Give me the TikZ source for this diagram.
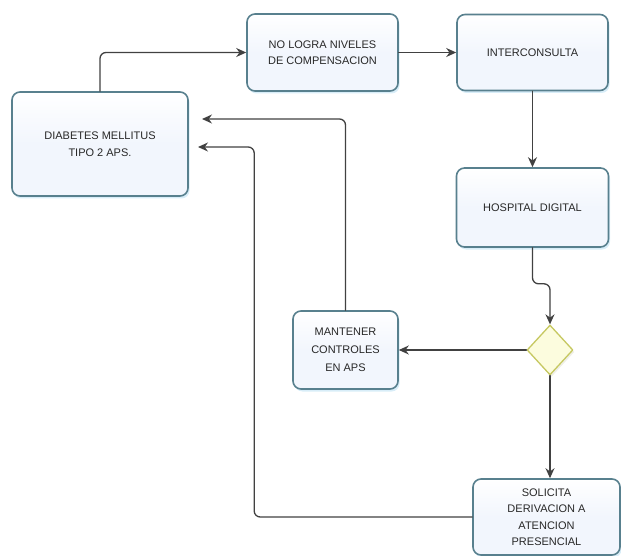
\documentclass[tikz,border=0pt]{standalone}
\usepackage{fontspec}
\usetikzlibrary{shapes.geometric,shadows,arrows.meta}
\newfontfamily\boxfont{Liberation Sans}
\definecolor{boxline}{RGB}{88,128,142}
\definecolor{boxfill}{RGB}{242,246,253}
\definecolor{boxglow}{RGB}{200,230,245}
\definecolor{decline}{RGB}{198,200,96}
\definecolor{decfill}{RGB}{252,252,222}
\definecolor{wire}{RGB}{65,65,65}
\definecolor{txt}{RGB}{40,40,40}
\begin{document}
\begin{tikzpicture}[>={Stealth[length=10pt,width=9pt]},line join=round,line cap=round,x=1pt,y=-1pt,
    paso/.style={draw=boxline,line width=1.6pt,top color=white,bottom color=boxfill,
        middle color=boxfill,rounded corners=8pt,
        align=center,text=txt,inner sep=2pt,
        font=\boxfont\fontsize{11}{16.5}\selectfont,
        drop shadow={shadow xshift=1.5pt,shadow yshift=-2.5pt,fill=boxglow,opacity=.7}},
    decision/.style={diamond,draw=decline,line width=1.3pt,fill=decfill,inner sep=0pt,
        minimum width=46pt,minimum height=50pt,
        drop shadow={shadow xshift=1.5pt,shadow yshift=-2pt,fill=decfill!70!gray,opacity=.4}},
    flecha/.style={->,draw=wire,line width=1.3pt,rounded corners=6pt}]
    \useasboundingbox (0,0) rectangle (621,556);
    % cajas
    \node[paso,minimum width=176pt,minimum height=104pt] (diab) at (100,144)
        {DIABETES MELLITUS\\TIPO 2 APS.};
    \node[paso,minimum width=151pt,minimum height=77pt] (nologra) at (322.5,52.5)
        {NO LOGRA NIVELES\\DE COMPENSACION};
    \node[paso,minimum width=151pt,minimum height=76pt] (inter) at (532.5,52.5)
        {INTERCONSULTA};
    \node[paso,minimum width=152pt,minimum height=79pt] (hosp) at (532.5,207.5)
        {HOSPITAL DIGITAL};
    \node[decision] (dec) at (550,350) {};
    \node[paso,minimum width=105pt,minimum height=78pt,
        font=\boxfont\fontsize{11}{18}\selectfont] (mant) at (345.5,350)
        {MANTENER\\CONTROLES\\EN APS};
    \node[paso,minimum width=147pt,minimum height=76pt] (solic) at (546.5,517)
        {SOLICITA\\DERIVACION A\\ATENCION\\PRESENCIAL};
    % puntos de llegada
    \coordinate (in1) at (202,119);
    \coordinate (in2) at (198,147);
    % flechas
    \draw[flecha] (diab.north) |- (nologra.west);
    \draw[flecha] (nologra) -- (inter);
    \draw[flecha] (inter) -- (hosp);
    \draw[flecha] (hosp.south) -- ++(0,36) -| (dec.north);
    \draw[flecha] (dec.west) -- (mant.east);
    \draw[flecha] (dec.south) -- (dec.south |- solic.north);
    \draw[flecha] (mant.north) |- (in1);
    \draw[flecha] (solic.west) -- ++(-218,0) |- (in2);
\end{tikzpicture}
\end{document}
